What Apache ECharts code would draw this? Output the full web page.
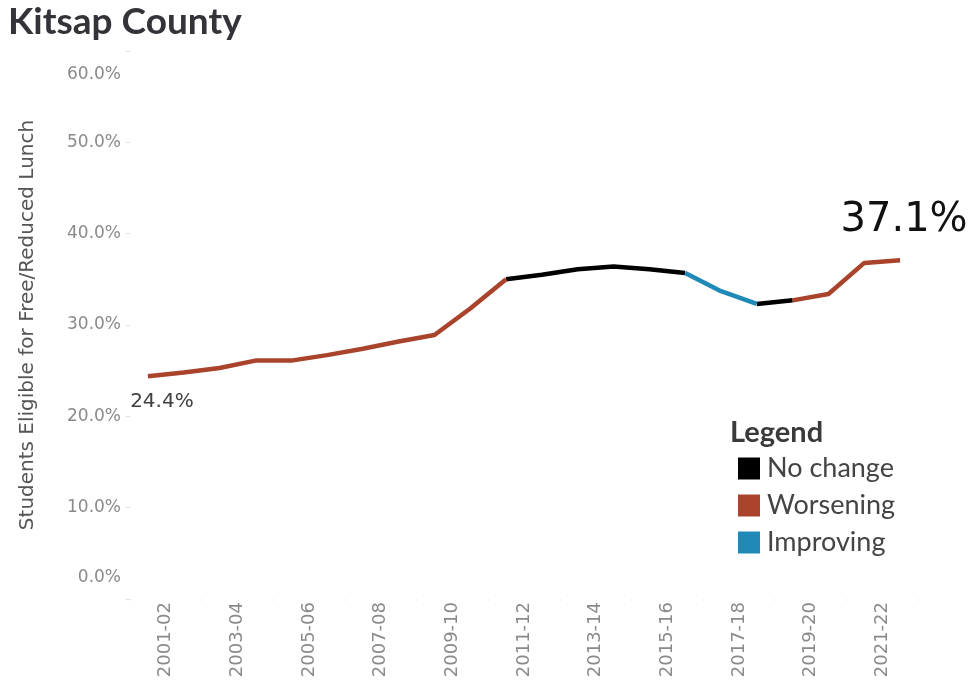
<!DOCTYPE html>
<html>
<head>
<meta charset="utf-8">
<script src="https://cdn.jsdelivr.net/npm/echarts@6/dist/echarts.min.js"></script>
<style>
  html, body { margin: 0; padding: 0; background: #fff; }
  #chart { width: 972px; height: 684px; }
</style>
</head>
<body>
<div id="chart"></div>
<script>
// ---- data ----
const categories = ['2001-02','2002-03','2003-04','2004-05','2005-06','2006-07','2007-08','2008-09','2009-10','2010-11','2011-12','2012-13','2013-14','2014-15','2015-16','2016-17','2017-18','2018-19','2019-20','2020-21','2021-22','2022-23'];
const frlValues = [24.4, 24.8, 25.3, 26.1, 26.1, 26.7, 27.4, 28.2, 28.9, 31.8, 35.0, 35.5, 36.1, 36.4, 36.1, 35.7, 33.7, 32.3, 32.7, 33.4, 36.8, 37.1];
// status of each segment between consecutive years
const segmentStatus = ['Worsening','Worsening','Worsening','Worsening','Worsening','Worsening','Worsening','Worsening','Worsening','Worsening',
  'No change','No change','No change','No change','No change',
  'Improving','Improving',
  'No change',
  'Worsening','Worsening','Worsening'];
const statusNames = ['No change', 'Worsening', 'Improving'];
const statusColors = { 'No change': '#000000', 'Worsening': '#A9432B', 'Improving': '#1F8AB8' };
const yTickValues = [0, 10, 20, 30, 40, 50, 60];

function seriesData(status) {
  return frlValues.map((v, i) => {
    const prev = i > 0 && segmentStatus[i - 1] === status;
    const next = i < segmentStatus.length && segmentStatus[i] === status;
    return (prev || next) ? v : null;
  });
}

const lastIdx = frlValues.length - 1;
const series = statusNames.map(name => {
  const data = seriesData(name).map((v, i) => {
    if (v === null) return null;
    if (name === 'Worsening' && i === 0) {
      return { value: v, label: { show: true, position: 'bottom', distance: 16, offset: [14, 0],
        formatter: p => p.value.toFixed(1) + '%', fontFamily: 'DejaVu Sans', fontSize: 20, color: '#404040' } };
    }
    if (name === 'Worsening' && i === lastIdx) {
      return { value: v, label: { show: true, position: 'top', distance: 20, offset: [4, 0],
        formatter: p => p.value.toFixed(1) + '%', fontFamily: 'DejaVu Sans', fontSize: 40, color: '#111' } };
    }
    return v;
  });
  return {
    name: name,
    type: 'line',
    xAxisIndex: 0,
    data: data,
    connectNulls: false,
    showSymbol: true,
    showAllSymbol: true,
    symbol: 'circle',
    symbolSize: 0,
    itemStyle: { color: statusColors[name] },
    lineStyle: { color: statusColors[name], width: 4.5 },
    emphasis: { disabled: true },
    silent: true,
    z: 3,
    animation: false
  };
});

const yLabelBase = { fontFamily: 'DejaVu Sans', fontSize: 17, color: '#8a8a8a' };

const option = {
  backgroundColor: '#ffffff',
  animation: false,
  title: [
    { text: 'Kitsap County', left: 3, top: -1,
      textStyle: { fontFamily: 'Lato', fontWeight: 'bold', fontSize: 37, color: '#33333a' } },
    { text: 'Legend', left: 725, top: 413,
      textStyle: { fontFamily: 'Lato', fontWeight: 'bold', fontSize: 29, color: '#3a3a3a' } }
  ],
  legend: {
    data: statusNames,
    orient: 'vertical',
    left: 733, top: 450,
    icon: 'rect',
    itemWidth: 22, itemHeight: 22,
    itemGap: 10,
    textStyle: { fontFamily: 'Lato', fontSize: 27, color: '#444', padding: [0, 0, 0, 2] },
    selectedMode: false
  },
  grid: { left: 130, right: 54, top: 51, bottom: 85, containLabel: false },
  xAxis: [
    {
      type: 'category',
      data: categories,
      boundaryGap: true,
      axisLine: { show: false },
      axisTick: { show: true, interval: 1, length: 2, lineStyle: { color: '#ececec' } },
      axisLabel: { show: false },
      splitLine: { show: false }
    },
    {
      // label axis: school-year labels sit at the right boundary of each year's band
      type: 'value',
      position: 'bottom',
      min: 0,
      max: categories.length,
      interval: 1,
      axisLine: { show: false },
      axisTick: { show: false },
      splitLine: { show: false },
      axisLabel: {
        rotate: 90,
        margin: 3,
        fontFamily: 'DejaVu Sans', fontSize: 18, color: '#8a8a8a',
        showMinLabel: true, showMaxLabel: true,
        formatter: v => (v % 2 === 1 && v - 1 < categories.length) ? categories[v - 1] : ''
      }
    }
  ],
  yAxis: {
    type: 'value',
    min: yTickValues[0],
    max: yTickValues[yTickValues.length - 1],
    interval: 10,
    name: 'Students Eligible for Free/Reduced Lunch',
    nameLocation: 'middle',
    nameGap: 92,
    nameTextStyle: { fontFamily: 'DejaVu Sans', fontSize: 20, color: '#555' },
    axisLine: { show: false },
    axisTick: { show: true, length: 4, lineStyle: { color: '#e0e0e0' } },
    splitLine: { show: false },
    axisLabel: {
      margin: 9,
      fontFamily: 'DejaVu Sans', fontSize: 17, color: '#8a8a8a',
      formatter: v => {
        const t = v.toFixed(1) + '%';
        if (v === yTickValues[0]) return '{lo|' + t + '}';
        if (v === yTickValues[yTickValues.length - 1]) return '{hi|' + t + '}';
        return '{n|' + t + '}';
      },
      rich: {
        n: Object.assign({}, yLabelBase),
        lo: Object.assign({ padding: [0, 0, 42, 0] }, yLabelBase),
        hi: Object.assign({ padding: [48, 0, 0, 0] }, yLabelBase)
      }
    }
  },
  series: series
};

const chart = echarts.init(document.getElementById('chart'), null, { renderer: 'canvas' });
chart.setOption(option);
</script>
</body>
</html>
